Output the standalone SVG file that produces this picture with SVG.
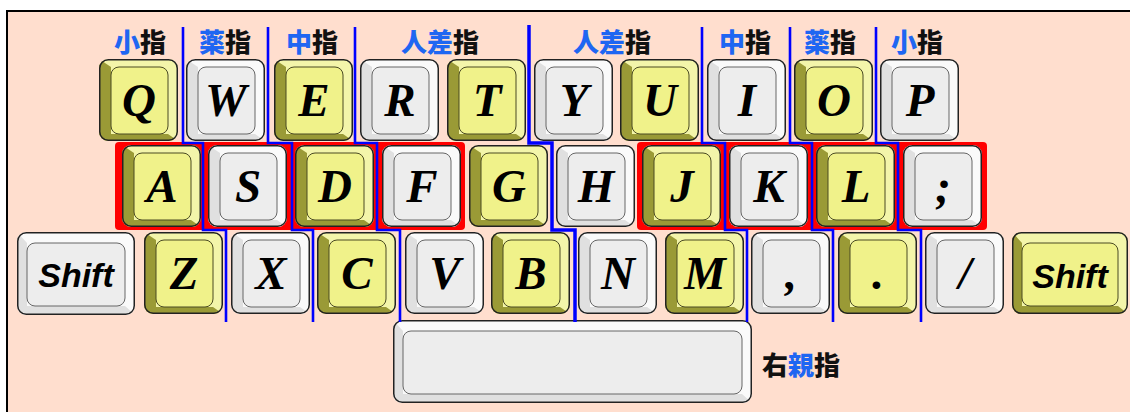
<svg xmlns="http://www.w3.org/2000/svg" xmlns:xlink="http://www.w3.org/1999/xlink" width="1130" height="412" viewBox="0 0 1130 412">
<style>
.lt{font-family:"Liberation Serif","Times New Roman",serif;font-weight:bold;font-style:italic;font-size:47px;text-anchor:middle;fill:#000}
.sh{font-family:"Liberation Sans",Arial,sans-serif;font-weight:bold;font-style:italic;font-size:34px;text-anchor:middle;fill:#000}
.fl{font-family:"Noto Sans CJK JP","Noto Sans CJK SC",sans-serif;font-weight:900;font-size:26px;text-anchor:middle;fill:#111}
.bl{fill:#1f66f2}
.sep{fill:none;stroke:#0000ff;stroke-width:2.6}
.outl{fill:none;stroke:#222;stroke-width:1.5}
</style>
<defs>
<clipPath id="ck"><rect width="79" height="82" rx="9"/></clipPath>
<clipPath id="cls"><rect width="118" height="83" rx="9"/></clipPath>
<clipPath id="crs"><rect width="116" height="82" rx="9"/></clipPath>
<clipPath id="csp"><rect width="359" height="83" rx="9"/></clipPath>
<g id="ky">
<rect width="79" height="82" rx="9" fill="#F3F5AA"/>
<polygon points="0,0 12,8 12,75 69,75 79,82 0,82" fill="#9A9A36" clip-path="url(#ck)"/>
<rect x="12" y="8" width="57" height="67" rx="8" fill="#F0F28A" stroke="#4a4a22" stroke-width="1"/>
<rect x="0.75" y="0.75" width="77.5" height="80.5" rx="8.5" class="outl"/>
</g>
<g id="kg">
<rect width="79" height="82" rx="9" fill="#FAFAFA"/>
<polygon points="0,0 12,8 12,75 69,75 79,82 0,82" fill="#E0E0E0" clip-path="url(#ck)"/>
<rect x="12" y="8" width="57" height="67" rx="8" fill="#EDEDED" stroke="#666" stroke-width="1"/>
<rect x="0.75" y="0.75" width="77.5" height="80.5" rx="8.5" class="outl"/>
</g>
</defs>
<rect x="0" y="0" width="1130" height="412" fill="#fff"/>
<rect x="7" y="11" width="1140" height="420" fill="#FFDECE" stroke="#000" stroke-width="2"/>
<g id="homerow-bands">
<rect x="115" y="142" width="350" height="88" rx="4" fill="#FF0000"/>
<rect x="637" y="142" width="350" height="88" rx="4" fill="#FF0000"/>
</g>
<g id="key-Q"><use xlink:href="#ky" x="99" y="59"/><text class="lt" x="139" y="116">Q</text></g>
<g id="key-W"><use xlink:href="#kg" x="186" y="59"/><text class="lt" x="226" y="116">W</text></g>
<g id="key-E"><use xlink:href="#ky" x="274" y="59"/><text class="lt" x="314" y="116">E</text></g>
<g id="key-R"><use xlink:href="#kg" x="360" y="59"/><text class="lt" x="400" y="116">R</text></g>
<g id="key-T"><use xlink:href="#ky" x="447" y="59"/><text class="lt" x="487" y="116">T</text></g>
<g id="key-Y"><use xlink:href="#kg" x="534" y="59"/><text class="lt" x="574" y="116">Y</text></g>
<g id="key-U"><use xlink:href="#ky" x="620" y="59"/><text class="lt" x="660" y="116">U</text></g>
<g id="key-I"><use xlink:href="#kg" x="707" y="59"/><text class="lt" x="747" y="116">I</text></g>
<g id="key-O"><use xlink:href="#ky" x="794" y="59"/><text class="lt" x="834" y="116">O</text></g>
<g id="key-P"><use xlink:href="#kg" x="880" y="59"/><text class="lt" x="920" y="116">P</text></g>
<g id="key-A"><use xlink:href="#ky" x="122" y="145"/><text class="lt" x="162" y="202">A</text></g>
<g id="key-S"><use xlink:href="#kg" x="208" y="145"/><text class="lt" x="248" y="202">S</text></g>
<g id="key-D"><use xlink:href="#ky" x="295" y="145"/><text class="lt" x="335" y="202">D</text></g>
<g id="key-F"><use xlink:href="#kg" x="382" y="145"/><text class="lt" x="422" y="202">F</text></g>
<g id="key-G"><use xlink:href="#ky" x="469" y="145"/><text class="lt" x="509" y="202">G</text></g>
<g id="key-H"><use xlink:href="#kg" x="556" y="145"/><text class="lt" x="596" y="202">H</text></g>
<g id="key-J"><use xlink:href="#ky" x="642" y="145"/><text class="lt" x="682" y="202">J</text></g>
<g id="key-K"><use xlink:href="#kg" x="729" y="145"/><text class="lt" x="769" y="202">K</text></g>
<g id="key-L"><use xlink:href="#ky" x="816" y="145"/><text class="lt" x="856" y="202">L</text></g>
<g id="key-semicolon"><use xlink:href="#kg" x="903" y="145"/><text class="lt" x="943" y="202">;</text></g>
<g id="key-LShift" transform="translate(17,232)">
<rect width="118" height="83" rx="9" fill="#FAFAFA"/>
<polygon points="0,0 10,11 10,74 108,74 118,83 0,83" fill="#E0E0E0" clip-path="url(#cls)"/>
<rect x="10" y="11" width="98" height="63" rx="8" fill="#EDEDED" stroke="#666" stroke-width="1"/>
<rect x="0.75" y="0.75" width="116.5" height="81.5" rx="8.5" class="outl"/>
<text class="sh" x="59" y="55">Shift</text>
</g>
<g id="key-Z"><use xlink:href="#ky" x="144" y="232"/><text class="lt" x="184" y="289">Z</text></g>
<g id="key-X"><use xlink:href="#kg" x="231" y="232"/><text class="lt" x="271" y="289">X</text></g>
<g id="key-C"><use xlink:href="#ky" x="317" y="232"/><text class="lt" x="357" y="289">C</text></g>
<g id="key-V"><use xlink:href="#kg" x="405" y="232"/><text class="lt" x="445" y="289">V</text></g>
<g id="key-B"><use xlink:href="#ky" x="491" y="232"/><text class="lt" x="531" y="289">B</text></g>
<g id="key-N"><use xlink:href="#kg" x="578" y="232"/><text class="lt" x="618" y="289">N</text></g>
<g id="key-M"><use xlink:href="#ky" x="665" y="232"/><text class="lt" x="705" y="289">M</text></g>
<g id="key-comma"><use xlink:href="#kg" x="751" y="232"/><text class="lt" x="791" y="289">,</text></g>
<g id="key-period"><use xlink:href="#ky" x="838" y="232"/><text class="lt" x="878" y="289">.</text></g>
<g id="key-slash"><use xlink:href="#kg" x="925" y="232"/><text class="lt" x="965" y="289">/</text></g>
<g id="key-RShift" transform="translate(1012,232)">
<rect width="116" height="82" rx="9" fill="#F3F5AA"/>
<polygon points="0,0 10,11 10,74 106,74 116,82 0,82" fill="#9A9A36" clip-path="url(#crs)"/>
<rect x="10" y="11" width="96" height="63" rx="8" fill="#F0F28A" stroke="#4a4a22" stroke-width="1"/>
<rect x="0.75" y="0.75" width="114.5" height="80.5" rx="8.5" class="outl"/>
<text class="sh" x="58" y="56">Shift</text>
</g>
<g id="key-Space" transform="translate(393,320)">
<rect width="359" height="83" rx="9" fill="#FAFAFA"/>
<polygon points="0,0 10,11 10,74 349,74 359,83 0,83" fill="#E0E0E0" clip-path="url(#csp)"/>
<rect x="10" y="11" width="339" height="63" rx="8" fill="#EDEDED" stroke="#666" stroke-width="1"/>
<rect x="0.75" y="0.75" width="357.5" height="81.5" rx="8.5" class="outl"/>
</g>
<g id="connectors">
<polyline class="sep" points="183,27 183,143 203,143 203,230 226,230 226,322"/>
<polyline class="sep" points="268,27 268,143 292,143 292,230 313,230 313,322"/>
<polyline class="sep" points="355,27 355,143 377,143 377,230 400,230 400,322"/>
<polyline class="sep" style="stroke-width:3.5" points="529,25 529,143 552,143 552,230 575,230 575,322"/>
<polyline class="sep" points="702,27 702,143 725,143 725,230 747,230 747,322"/>
<polyline class="sep" points="790,27 790,143 812,143 812,230 833,230 833,322"/>
<polyline class="sep" points="876,27 876,143 898,143 898,230 921,230 921,322"/>
</g>
<g id="finger-labels">
<text class="fl" x="140" y="52"><tspan class="bl">小</tspan>指</text>
<text class="fl" x="225" y="52"><tspan class="bl">薬</tspan>指</text>
<text class="fl" x="312" y="52"><tspan class="bl">中</tspan>指</text>
<text class="fl" x="440" y="52"><tspan class="bl">人差</tspan>指</text>
<text class="fl" x="612" y="52"><tspan class="bl">人差</tspan>指</text>
<text class="fl" x="745" y="52"><tspan class="bl">中</tspan>指</text>
<text class="fl" x="830" y="52"><tspan class="bl">薬</tspan>指</text>
<text class="fl" x="917" y="52"><tspan class="bl">小</tspan>指</text>
<text class="fl" x="801" y="375">右<tspan class="bl">親</tspan>指</text>
</g>
</svg>
